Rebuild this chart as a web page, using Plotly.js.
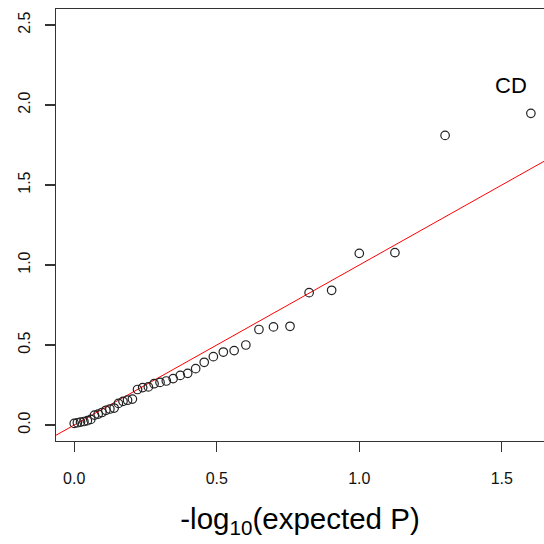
<!DOCTYPE html>
<html>
<head>
<meta charset="utf-8">
<script src="https://cdn.plot.ly/plotly-3.0.1.min.js"></script>
<style>
  html, body { margin: 0; padding: 0; background: #fff; overflow: hidden; }
</style>
</head>
<body>
<div id="myDiv"></div>
<script>
const expLog = [0.000, 0.011, 0.022, 0.034, 0.046, 0.058, 0.071, 0.084, 0.097, 0.111,
                0.125, 0.140, 0.155, 0.171, 0.187, 0.204, 0.222, 0.240, 0.260, 0.280,
                0.301, 0.323, 0.347, 0.372, 0.398, 0.426, 0.456, 0.488, 0.523, 0.561,
                0.602, 0.648, 0.699, 0.757, 0.824, 0.903, 1.000, 1.125, 1.301, 1.602];
const obsLog = [0.010, 0.014, 0.018, 0.022, 0.027, 0.035, 0.062, 0.068, 0.078, 0.092,
                0.100, 0.106, 0.135, 0.148, 0.155, 0.162, 0.222, 0.234, 0.238, 0.258,
                0.266, 0.275, 0.290, 0.310, 0.323, 0.352, 0.392, 0.427, 0.456, 0.465,
                0.500, 0.597, 0.613, 0.617, 0.827, 0.842, 1.073, 1.077, 1.810, 1.948];

const xTicks = [0, 0.5, 1.0, 1.5];
const yTicks = [0, 0.5, 1.0, 1.5, 2.0, 2.5];
const xRange = [-0.064, 1.648];
const yRange = [-0.1, 2.6];

const labelText = 'CD';
const labelX = 1.533;
const labelY = 2.125;

const fnt = 'Liberation Sans, Arial, Helvetica, sans-serif';

const puntos = {
  x: expLog,
  y: obsLog,
  type: 'scatter',
  mode: 'markers',
  marker: { symbol: 'circle-open', size: 8.5, color: '#222', line: { width: 1.2, color: '#222' } },
  hoverinfo: 'x+y'
};

// reference line y = x across the axis
const diagonal = {
  x: xRange,
  y: xRange,
  type: 'scatter',
  mode: 'lines',
  line: { color: '#ff0000', width: 1 },
  hoverinfo: 'skip'
};

var layout = {
  width: 544,
  height: 544,
  margin: { l: 56, r: 0, t: 9, b: 103 },
  paper_bgcolor: '#fff',
  plot_bgcolor: '#fff',
  showlegend: false,
  font: { family: fnt, color: '#000' },
  xaxis: {
    range: xRange,
    tickvals: xTicks,
    tickformat: '.1f',
    ticks: 'outside',
    ticklen: 10,
    tickwidth: 1.2,
    tickcolor: '#333',
    ticklabelstandoff: 12,
    tickfont: { size: 16, family: fnt, color: '#111' },
    showgrid: false,
    zeroline: false,
    showline: true,
    mirror: true,
    linecolor: '#333',
    linewidth: 1.4,
    title: {
      text: '-log<sub>10</sub>(expected P)',
      font: { size: 29.5, family: fnt, color: '#000' },
      standoff: 22
    }
  },
  yaxis: {
    range: yRange,
    tickvals: yTicks,
    tickformat: '.1f',
    tickangle: -90,
    ticks: 'outside',
    ticklen: 10,
    tickwidth: 1.2,
    tickcolor: '#333',
    ticklabelstandoff: 8,
    tickfont: { size: 16, family: fnt, color: '#111' },
    showgrid: false,
    zeroline: false,
    showline: true,
    linecolor: '#333',
    linewidth: 1.4
  },
  annotations: [{
    x: labelX,
    y: labelY,
    xref: 'x',
    yref: 'y',
    text: labelText,
    showarrow: false,
    font: { size: 22, family: fnt, color: '#000' }
  }]
};

Plotly.newPlot('myDiv', [diagonal, puntos], layout, { staticPlot: true });
</script>
</body>
</html>
